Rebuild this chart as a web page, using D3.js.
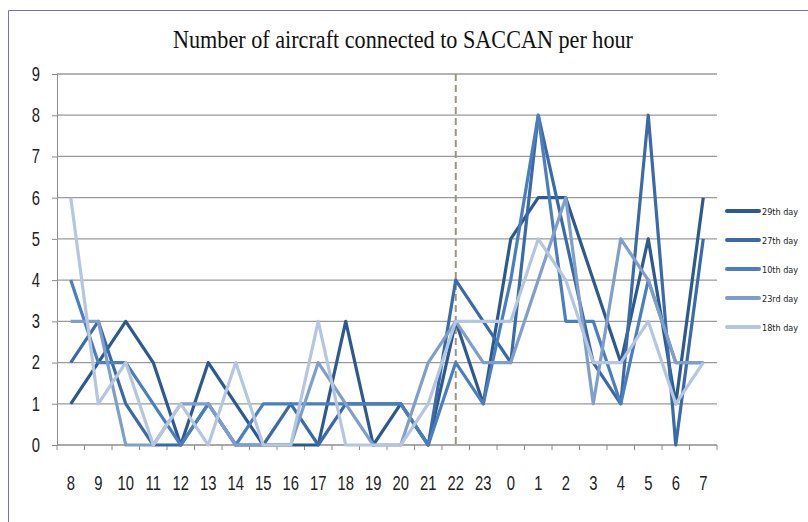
<!DOCTYPE html>
<html>
<head>
<meta charset="utf-8">
<script src="https://cdn.jsdelivr.net/npm/d3@7"></script>
<style>
  body { margin: 0; background: #fff; }
  svg { display: block; }
</style>
</head>
<body>
<div id="chart"></div>
<script>
// hours of the day, starting at 8 in the morning
var hours = ["8","9","10","11","12","13","14","15","16","17","18","19","20","21","22","23","0","1","2","3","4","5","6","7"]
var yTicks = [0,1,2,3,4,5,6,7,8,9]
var seriesNames = ["29th day","27th day","10th day","23rd day","18th day"]

var day29 = [1,2,3,2,0,2,1,0,0,0,3,0,1,0,3,1,5,6,6,4,2,5,1,6]
var day27 = [2,3,1,0,0,1,0,0,1,0,1,1,1,0,4,3,2,8,5,2,1,8,0,5]
var day10 = [4,2,2,1,0,1,0,1,1,1,1,1,1,0,2,1,4,8,3,3,1,4,2,2]
var day23 = [3,3,0,0,1,1,0,0,0,2,1,0,0,2,3,2,2,4,6,1,5,4,2,2]
var day18 = [6,1,2,0,1,0,2,0,0,3,0,0,0,1,3,3,3,5,4,2,2,3,1,2]

var markerHour = "22"

var colors = ["#2c5a8f", "#3a6aa8", "#4a7ebd", "#809ecb", "#b5c6e0"]
var allSeries = [day29, day27, day10, day23, day18]

var W = 808, H = 522
var margin = { top: 74, left: 57, right: 91, bottom: 77 }
var width = W - margin.left - margin.right,
    height = H - margin.top - margin.bottom

var labelFont = "20px 'Liberation Sans', Arial, sans-serif"
var squeeze = 0.74

var svg = d3.select("#chart").append("svg")
    .attr("width", W)
    .attr("height", H)

// frame of the copied chart object
svg.append("path")
    .attr("d", "M8.5," + H + "V10.5H" + W)
    .attr("fill", "none")
    .attr("stroke", "#6f6fd2")
    .attr("stroke-width", 1)

svg.append("text")
    .attr("x", 403)
    .attr("y", 48)
    .attr("text-anchor", "middle")
    .attr("textLength", 460)
    .attr("lengthAdjust", "spacingAndGlyphs")
    .style("font", "25px 'Liberation Serif', 'Times New Roman', serif")
    .style("fill", "#111")
    .text("Number of aircraft connected to SACCAN per hour")

var g = svg.append("g")
    .attr("transform", "translate(" + margin.left + "," + margin.top + ")")

var x = d3.scalePoint()
    .domain(hours)
    .range([0, width])
    .padding(0.5)

var xBand = d3.scaleBand()
    .domain(hours)
    .range([0, width])

var y = d3.scaleLinear()
    .domain([0, 9])
    .range([height, 0])

// y axis with left ticks
var yAxis = g.append("g")
    .call(d3.axisLeft(y).tickValues(yTicks).tickSize(5).tickPadding(18))
yAxis.select(".domain").attr("stroke", "#8c8c8c")
yAxis.selectAll(".tick line").attr("stroke", "#8c8c8c")
yAxis.selectAll(".tick text")
    .attr("transform", "scale(" + squeeze + ",1)")
    .style("font", labelFont)
    .style("fill", "#222")

// gridlines
g.append("g")
    .selectAll("line")
    .data(yTicks.filter(function(d) { return d > 0 }))
    .enter()
    .append("line")
    .attr("x1", 0)
    .attr("x2", width)
    .attr("y1", function(d) { return y(d) })
    .attr("y2", function(d) { return y(d) })
    .attr("stroke", "#9a9a9a")
    .attr("stroke-width", 1.3)

// x axis
g.append("line")
    .attr("x1", 0).attr("x2", width)
    .attr("y1", height).attr("y2", height)
    .attr("stroke", "#8c8c8c")
    .attr("stroke-width", 1.3)

var bounds = hours.map(function(h) { return xBand(h) }).concat([width])
g.append("g")
    .selectAll("line")
    .data(bounds)
    .enter()
    .append("line")
    .attr("x1", function(d) { return d })
    .attr("x2", function(d) { return d })
    .attr("y1", height)
    .attr("y2", height + 5)
    .attr("stroke", "#8c8c8c")

g.append("g")
    .selectAll("text")
    .data(hours)
    .enter()
    .append("text")
    .attr("transform", function(d) { return "translate(" + x(d) + "," + (height + 45) + ") scale(" + squeeze + ",1)" })
    .attr("text-anchor", "middle")
    .style("font", labelFont)
    .style("fill", "#222")
    .text(function(d) { return d })

// dashed marker at 22h
g.append("line")
    .attr("x1", x(markerHour)).attr("x2", x(markerHour))
    .attr("y1", y(9)).attr("y2", height)
    .attr("stroke", "#9b9682")
    .attr("stroke-width", 2)
    .attr("stroke-dasharray", "7,4")

var line = d3.line()
    .x(function(d, i) { return x(hours[i]) })
    .y(function(d) { return y(d) })

g.append("g")
    .selectAll("path")
    .data(allSeries)
    .enter()
    .append("path")
    .attr("d", line)
    .attr("fill", "none")
    .attr("stroke", function(d, i) { return colors[i] })
    .attr("stroke-width", 3.2)
    .attr("stroke-linejoin", "round")

// legend, kept small so it fits inside the page
var legend = svg.append("g")
    .selectAll("g")
    .data(seriesNames)
    .enter()
    .append("g")
    .attr("transform", function(d, i) { return "translate(727," + (211 + i * 29) + ")" })

legend.append("line")
    .attr("x1", 0).attr("x2", 32)
    .attr("stroke", function(d, i) { return colors[i] })
    .attr("stroke-width", 4)
    .attr("stroke-linecap", "round")

legend.append("text")
    .attr("x", 35)
    .attr("y", 3.5)
    .style("font", "9px 'DejaVu Sans Condensed', 'DejaVu Sans', sans-serif")
    .style("fill", "#222")
    .text(function(d) { return d })
</script>
</body>
</html>
